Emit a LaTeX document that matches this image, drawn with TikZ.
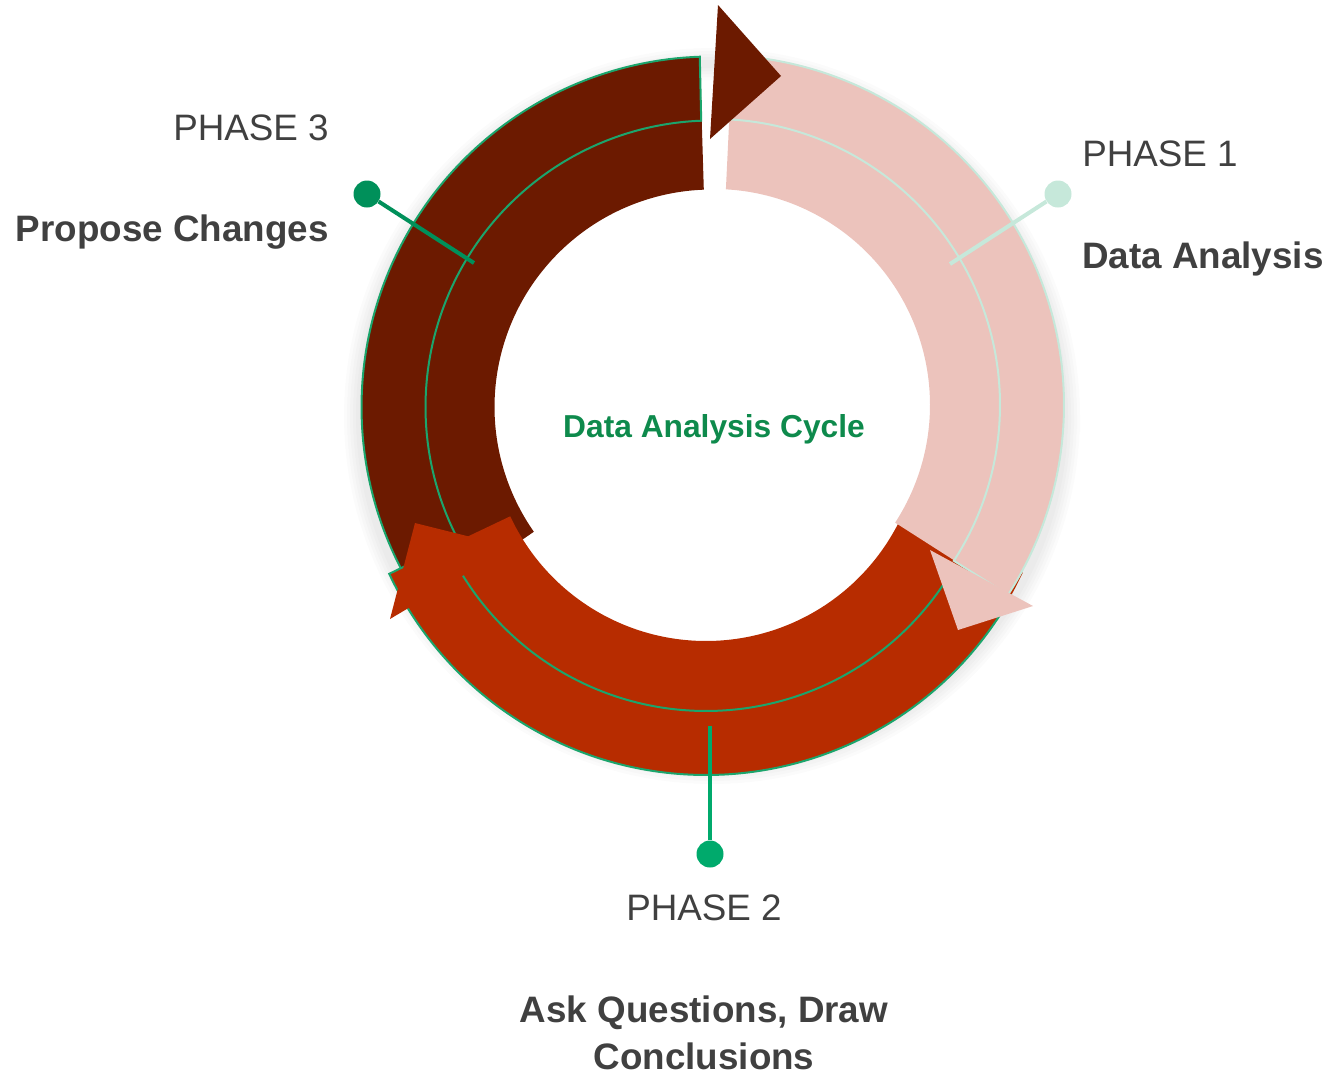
\documentclass[tikz,border=0pt]{standalone}
\usepackage{fontspec}
\setmainfont{Liberation Sans}
\definecolor{cbrown}{HTML}{6C1A00}
\definecolor{cred}{HTML}{B72C00}
\definecolor{cpink}{HTML}{ECC3BC}
\definecolor{cgreen}{HTML}{1BA56C}
\definecolor{cmint}{HTML}{C6E8DA}
\definecolor{cdark}{HTML}{00905A}
\definecolor{cmid}{HTML}{00AA6C}
\definecolor{ctxt}{HTML}{404040}
\definecolor{ctitle}{HTML}{0E8A4C}
\newcommand{\ringopen}[6]{plot[domain=0:1,samples=120] ({#1+#4*cos((#5)+((#6)-(#5))*\x)},{#2-#4*sin((#5)+((#6)-(#5))*\x)}) -- plot[domain=0:1,samples=120] ({#1+#3*cos((#6)+((#5)-(#6))*\x)},{#2-#3*sin((#6)+((#5)-(#6))*\x)})}
\newcommand{\ringseg}[6]{\ringopen{#1}{#2}{#3}{#4}{#5}{#6} -- cycle}
\begin{document}
\begin{tikzpicture}[x=0.75pt,y=-0.75pt,
  lbl/.style={inner sep=0pt, text=ctxt, font=\fontsize{27.6pt}{33pt}\selectfont},
  boldlbl/.style={inner sep=0pt, text=ctxt, font=\fontsize{27.6pt}{33pt}\selectfont\bfseries},
  dot/.style={circle, inner sep=0pt, minimum size=20.25pt},
  leader/.style={line width=3pt},
  outline/.style={line width=1.5pt, line join=miter}]
\useasboundingbox (0,0) rectangle (1331,1075);
% soft shadow
\foreach \w in {32,26,20,14,8}
  \draw[black, opacity=0.016, line width=\w*0.75pt] plot[domain=0:360,samples=180] ({712+352*cos(\x)},{416-352*sin(\x)}) -- cycle;
% phase 3 band
\fill[cbrown] \ringseg{712}{407}{217.5}{350.5}{92}{215};
\draw[cgreen, outline] \ringseg{712}{407}{286.5}{350.5}{92}{215};
% phase 2 band
\fill[cred] \ringseg{706}{425}{216}{349.5}{-25}{-155};
\draw[cgreen, outline] \ringopen{706}{425}{286}{350}{-29}{-155};
\fill[cred] (415,523) -- (390,619) -- (511,547) -- cycle;
% phase 1 band
\fill[cpink] \ringseg{714}{405}{216}{350}{87}{-33};
\draw[cmint, outline] \ringseg{714}{405}{286}{350}{87}{-33};
\fill[cpink] (930,550) -- (1033,606) -- (958,630) -- cycle;
% phase 3 head
\fill[cbrown] (718,5) -- (781,76) -- (710,139) -- cycle;
% leaders
\coordinate (e3) at (474,263);
\node[dot, fill=cdark] (d3) at (367,194) {};
\draw[leader, cdark] (d3) -- (e3);
\coordinate (e1) at (950,264);
\node[dot, fill=cmint] (d1) at (1058,194) {};
\draw[leader, cmint] (d1) -- (e1);
\coordinate (e2) at (710,726);
\node[dot, fill=cmid] (d2) at (710,854) {};
\draw[leader, cmid] (e2) -- (d2);
% texts
\node[inner sep=0pt, text=ctitle, font=\fontsize{23.8pt}{28pt}\selectfont\bfseries, anchor=base] (title) at (714,437) {Data Analysis Cycle};
\node[lbl, anchor=base east] (p3) at (329,140) {PHASE 3};
\node[boldlbl, anchor=base east] (n3) at (329,241) {Propose Changes};
\node[lbl, anchor=base west] (p1) at (1082,166) {PHASE 1};
\node[boldlbl, anchor=base west] (n1) at (1082,268) {Data Analysis};
\node[lbl, anchor=base] (p2) at (704,920) {PHASE 2};
\node[boldlbl, anchor=base] (n2a) at (704,1022) {Ask Questions, Draw};
\node[boldlbl, anchor=base] (n2b) at (704,1069) {Conclusions};
\end{tikzpicture}
\end{document}
